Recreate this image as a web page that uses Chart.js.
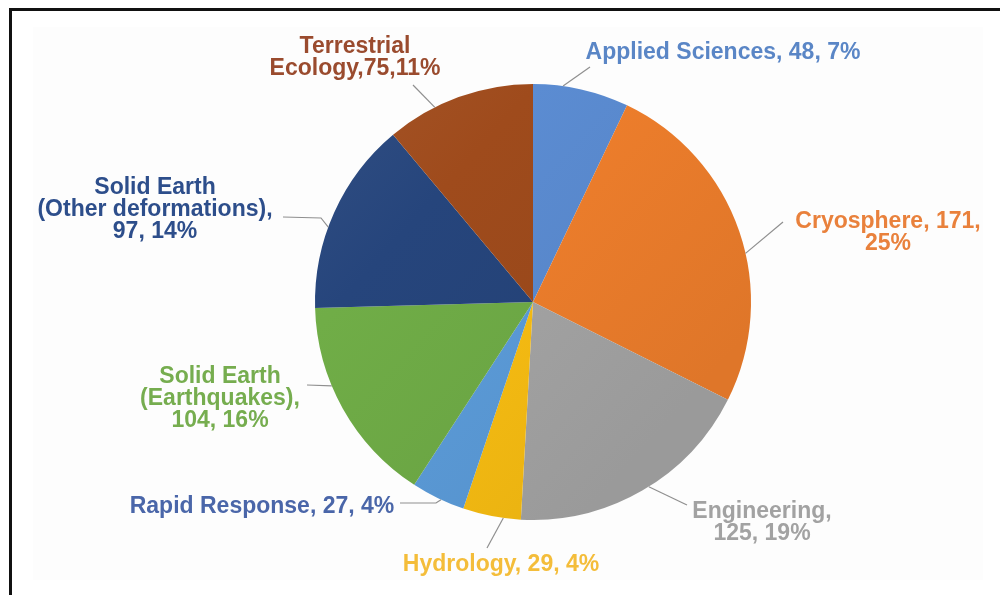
<!DOCTYPE html>
<html>
<head>
<meta charset="utf-8">
<script src="https://cdn.jsdelivr.net/npm/chart.js@4/dist/chart.umd.min.js"></script>
<style>
  html, body { margin: 0; padding: 0; background: #ffffff; }
  #stage { position: relative; width: 1000px; height: 595px; overflow: hidden; }
  #frame { position: absolute; left: 9px; top: 8px; width: 1000px; height: 600px;
           border-top: 3px solid #111; border-left: 3px solid #111; }
  #panel { position: absolute; left: 33px; top: 27px; width: 950px; height: 553px; background: #fdfdfd; }
  #chart { position: absolute; left: 0; top: 0; }
</style>
</head>
<body>
<div id="stage">
  <div id="frame"></div>
  <div id="panel"></div>
  <canvas id="chart" width="1000" height="595"></canvas>
</div>
<script>
// Project counts by discipline
const categories = [
  'Applied Sciences', 'Cryosphere', 'Engineering', 'Hydrology',
  'Rapid Response', 'Solid Earth (Earthquakes)', 'Solid Earth (Other deformations)', 'Terrestrial Ecology'
];
const counts = [48, 171, 125, 29, 27, 104, 97, 75];
const percents = [7, 25, 19, 4, 4, 16, 14, 11];

// Label text templates ({n} = count, {p} = percent); each entry is one line
const labelTemplates = [
  ['Applied Sciences, {n}, {p}%'],
  ['Cryosphere, {n},', '{p}%'],
  ['Engineering,', '{n}, {p}%'],
  ['Hydrology, {n}, {p}%'],
  ['Rapid Response, {n}, {p}%'],
  ['Solid Earth', '(Earthquakes),', '{n}, {p}%'],
  ['Solid Earth', '(Other deformations),', '{n}, {p}%'],
  ['Terrestrial', 'Ecology,{n},{p}%']
];

// Styling
const sliceColors = ['#5b8cd2', '#f07f2c', '#a6a6a6', '#fbbf12', '#5c9ddb', '#70ad47', '#26457c', '#9f4b1c'];
const labelColors = ['#5a86c6', '#e9813c', '#a2a2a2', '#f4bd3a', '#4a66a9', '#76ad4f', '#2d4e8b', '#9a4b2e'];

// Label placement: text centre x, centre y of first line, leader line start/elbow,
// and where along the slice the leader meets the rim (0 = start, 1 = end)
const labelLayout = [
  { x: 723, y: 53, pts: [[590, 67]], along: 0.31 },
  { x: 888, y: 222, pts: [[783, 222]], along: 0.566 },
  { x: 762, y: 512, pts: [[687, 505]], along: 0.47 },
  { x: 501, y: 565, pts: [[487, 548]], along: 0.30 },
  { x: 262, y: 507, pts: [[400, 503], [436, 503]], along: 0.44 },
  { x: 220, y: 377, pts: [[307, 385]], along: 0.62 },
  { x: 155, y: 188, pts: [[283, 217], [321, 218]], along: 0.42 },
  { x: 355, y: 47, pts: [[413, 85]], along: 0.33 }
];
const lineHeight = 22;
const labelFont = 'bold 23px "Liberation Sans", Arial, sans-serif';

function labelText(i) {
  return labelTemplates[i].map(t => t.replace('{n}', counts[i]).replace('{p}', percents[i]));
}

// Shift a hex colour towards white (amt > 0) or black (amt < 0)
function shade(hex, amt) {
  const n = parseInt(hex.slice(1), 16);
  const ch = [(n >> 16) & 255, (n >> 8) & 255, n & 255].map(c =>
    Math.round(amt >= 0 ? c + (255 - c) * amt : c * (1 + amt)));
  return 'rgb(' + ch.join(',') + ')';
}

// Soft top-to-bottom lighting across the pie
function sliceFill(context) {
  const chart = context.chart;
  const area = chart.chartArea;
  const base = sliceColors[context.dataIndex];
  if (!area) return base;
  const g = chart.ctx.createLinearGradient(area.left, area.top, area.right * 0.6, area.bottom);
  g.addColorStop(0, shade(base, 0.10));
  g.addColorStop(0.5, base);
  g.addColorStop(1, shade(base, -0.07));
  return g;
}

const calloutPlugin = {
  id: 'callouts',
  afterDatasetsDraw(chart) {
    const ctx = chart.ctx;
    const arcs = chart.getDatasetMeta(0).data;
    ctx.save();
    arcs.forEach((arc, i) => {
      const lay = labelLayout[i];
      const a = arc.startAngle + (arc.endAngle - arc.startAngle) * lay.along;
      const ex = arc.x + arc.outerRadius * Math.cos(a);
      const ey = arc.y + arc.outerRadius * Math.sin(a);
      ctx.beginPath();
      ctx.strokeStyle = '#8f8f8f';
      ctx.lineWidth = 1.2;
      ctx.moveTo(lay.pts[0][0], lay.pts[0][1]);
      for (let k = 1; k < lay.pts.length; k++) ctx.lineTo(lay.pts[k][0], lay.pts[k][1]);
      ctx.lineTo(ex, ey);
      ctx.stroke();

      ctx.font = labelFont;
      ctx.fillStyle = labelColors[i];
      ctx.textAlign = 'center';
      ctx.textBaseline = 'middle';
      labelText(i).forEach((line, k) => {
        ctx.fillText(line, lay.x, lay.y + k * lineHeight);
      });
    });
    ctx.restore();
  }
};

new Chart(document.getElementById('chart'), {
  type: 'pie',
  data: {
    labels: categories,
    datasets: [{
      data: counts,
      backgroundColor: sliceFill,
      borderWidth: 0
    }]
  },
  options: {
    responsive: false,
    animation: false,
    layout: { padding: { left: 100, right: 34, top: 84, bottom: 75 } },
    plugins: {
      legend: { display: false },
      tooltip: { enabled: false }
    }
  },
  plugins: [calloutPlugin]
});
</script>
</body>
</html>
